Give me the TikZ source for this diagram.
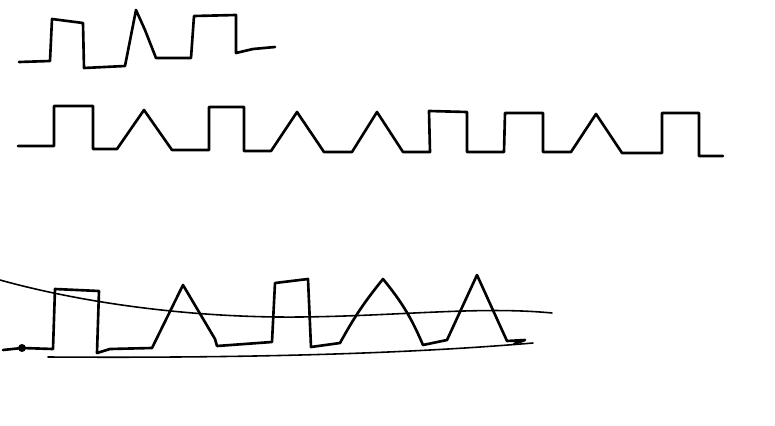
\documentclass[tikz,border=0pt]{standalone}
\usepackage{tikz}
\usetikzlibrary{calc}

\begin{document}
\begin{tikzpicture}[x=0.02cm, y=-0.02cm,
    wave/.style={line width=1.5pt, line join=round, line cap=round},
    guide/.style={line width=0.9pt, line cap=round}]
  \useasboundingbox (0,0) rectangle (775,426);
  % short pattern
  \draw[wave] (19,62) -- (50,61) -- (52,19) -- (83,23) -- (84,68)
    -- (125,66) -- (136,10) -- (145,30) -- (156,58) -- (191,58)
    -- (194,16) -- (236,15) -- (236,53) -- (253,49) -- (275,47);
  % long pattern
  \draw[wave] (18,146) -- (54,146) -- (54,106) -- (93,106) -- (93,149)
    -- (117,149) -- (144,110) -- (172,150) -- (209,150) -- (209,107)
    -- (244,107) -- (244,151) -- (271,151) -- (297,112) -- (324,152)
    -- (352,152) -- (377,112) -- (403,152) -- (430,152) -- (429,111)
    -- (467,112) -- (467,152) -- (504,152) -- (505,113) -- (543,113)
    -- (543,152) -- (571,152) -- (596,114) -- (622,153) -- (662,153)
    -- (662,113) -- (699,113) -- (699,156) -- (723,156);
  % measured signal with envelope
  \draw[guide] (0,280) .. controls (90,305) and (200,318) .. (300,317)
    .. controls (400,316) and (480,306) .. (552,313);
  \draw[guide] (48,357) .. controls (200,358) and (380,356) .. (533,343);
  \fill (22,348) circle (4);
  \draw[wave] (3,350) -- (22,348) -- (53,349) -- (55,289) -- (99,291)
    -- (97,353) -- (110,349) -- (152,348) -- (183,285) -- (215,339)
    -- (217,346) -- (272,342) -- (275,283) -- (308,279) -- (311,347)
    -- (340,343) to[bend left=5] (383,279) to[bend left=8] (423,345)
    -- (447,340) -- (477,275) -- (507,341)
    -- (525,340) -- (514,344);
\end{tikzpicture}
\end{document}
